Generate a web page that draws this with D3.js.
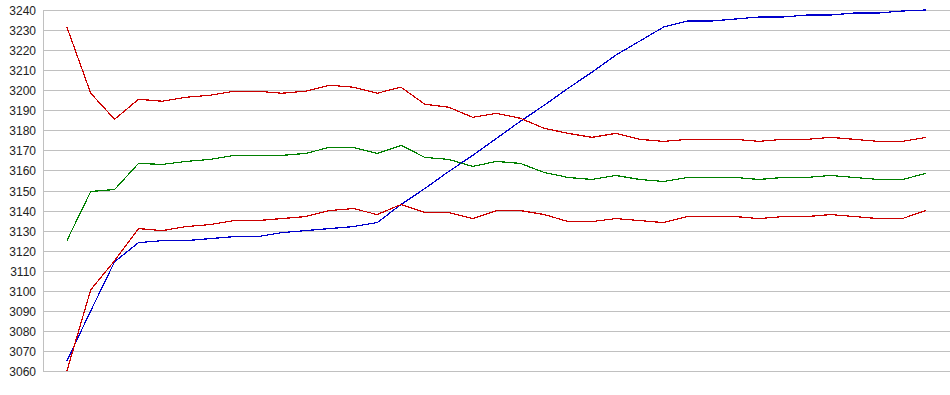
<!DOCTYPE html>
<html>
<head>
<meta charset="utf-8">
<script src="https://cdn.jsdelivr.net/npm/d3@7"></script>
<style>
  html, body { margin: 0; padding: 0; background: #fff; }
  svg { display: block; }
</style>
</head>
<body>
<div id="chart"></div>
<script>
// y-axis tick labels
const yTicks = [3060, 3070, 3080, 3090, 3100, 3110, 3120, 3130, 3140, 3150,
                3160, 3170, 3180, 3190, 3200, 3210, 3220, 3230, 3240];

// upper red series
const redUpper = [3231.5, 3198.5, 3185.5, 3195.5, 3194.5, 3196.5, 3197.5, 3199.5, 3199.5, 3198.5,
                  3199.5, 3202.5, 3201.5, 3198.5, 3201.5, 3193, 3191.5, 3186.5, 3188.5, 3186,
                  3181, 3178.5, 3176.5, 3178.5, 3175.5, 3174.5, 3175.5, 3175.5, 3175.5, 3174.5,
                  3175.5, 3175.5, 3176.5, 3175.5, 3174.5, 3174.5, 3176.5];

// green series (middle)
const greenMid = [3125, 3149.5, 3150.5, 3163.5, 3163, 3164.5, 3165.5, 3167.5, 3167.5, 3167.5,
                  3168.5, 3171.5, 3171.5, 3168.5, 3172.5, 3166.5, 3165.5, 3162, 3164.5, 3163.5,
                  3159, 3156.5, 3155.5, 3157.5, 3155.5, 3154.5, 3156.5, 3156.5, 3156.5, 3155.5,
                  3156.5, 3156.5, 3157.5, 3156.5, 3155.5, 3155.5, 3158.5];

// lower red series
const redLower = [3060, 3100.5, 3115, 3131, 3130, 3132, 3133, 3135, 3135, 3136,
                  3137, 3140, 3141, 3138, 3143, 3139, 3139, 3136, 3140, 3140,
                  3138, 3134.5, 3134.5, 3136, 3135, 3134, 3137, 3137, 3137, 3136,
                  3137, 3137, 3138, 3137, 3136, 3136, 3140];

// blue series
const blueLine = [3065, 3090, 3114.5, 3124, 3125, 3125, 3126, 3127, 3127, 3129,
                  3130, 3131, 3132, 3134, 3143, 3151, 3159.5, 3167.5, 3176, 3184.5,
                  3192.5, 3201, 3209, 3217.5, 3224.5, 3231.5, 3234.5, 3234.5, 3235.5, 3236.5,
                  3236.5, 3237.5, 3237.5, 3238.5, 3238.5, 3239.5, 3240];

const width = 950;
const height = 395;
const plotLeft = 43, plotRight = 950, plotTop = 10, plotBottom = 371;

const svg = d3.select('#chart')
    .append('svg')
    .attr('width', width)
    .attr('height', height);

const n = blueLine.length;

// x: one empty slot before the first point and after the last
const x = d3.scaleLinear()
    .domain([-1, n])
    .range([plotLeft, plotRight]);

const y = d3.scaleLinear()
    .domain([3060, 3240])
    .range([plotBottom, plotTop]);

// gridlines
svg.append('g')
    .selectAll('line')
    .data(yTicks)
    .enter()
    .append('line')
    .attr('x1', plotLeft)
    .attr('x2', plotRight)
    .attr('y1', d => Math.round(y(d)) + 0.5)
    .attr('y2', d => Math.round(y(d)) + 0.5)
    .attr('stroke', '#c0c0c0')
    .attr('stroke-width', 1);

// vertical axis line
svg.append('line')
    .attr('x1', plotLeft + 0.5)
    .attr('x2', plotLeft + 0.5)
    .attr('y1', plotTop)
    .attr('y2', plotBottom + 1)
    .attr('stroke', '#c0c0c0');

// tick labels
svg.append('g')
    .selectAll('text')
    .data(yTicks)
    .enter()
    .append('text')
    .attr('x', 36)
    .attr('y', d => Math.round(y(d)) + 5)
    .attr('text-anchor', 'end')
    .attr('font-family', 'Arial, "Liberation Sans", sans-serif')
    .attr('font-size', 12)
    .attr('fill', '#222')
    .text(d => d);

// series
const series = [
    { values: blueLine, color: '#0000cc' },
    { values: greenMid, color: '#008000' },
    { values: redLower, color: '#cc0000' },
    { values: redUpper, color: '#cc0000' }
];

const line = d3.line()
    .x((d, i) => x(i))
    .y(d => y(d));

svg.append('g')
    .selectAll('path')
    .data(series)
    .enter()
    .append('path')
    .attr('d', d => line(d.values))
    .attr('fill', 'none')
    .attr('stroke', d => d.color)
    .attr('stroke-width', 1.2)
    .attr('shape-rendering', 'crispEdges');
</script>
</body>
</html>
